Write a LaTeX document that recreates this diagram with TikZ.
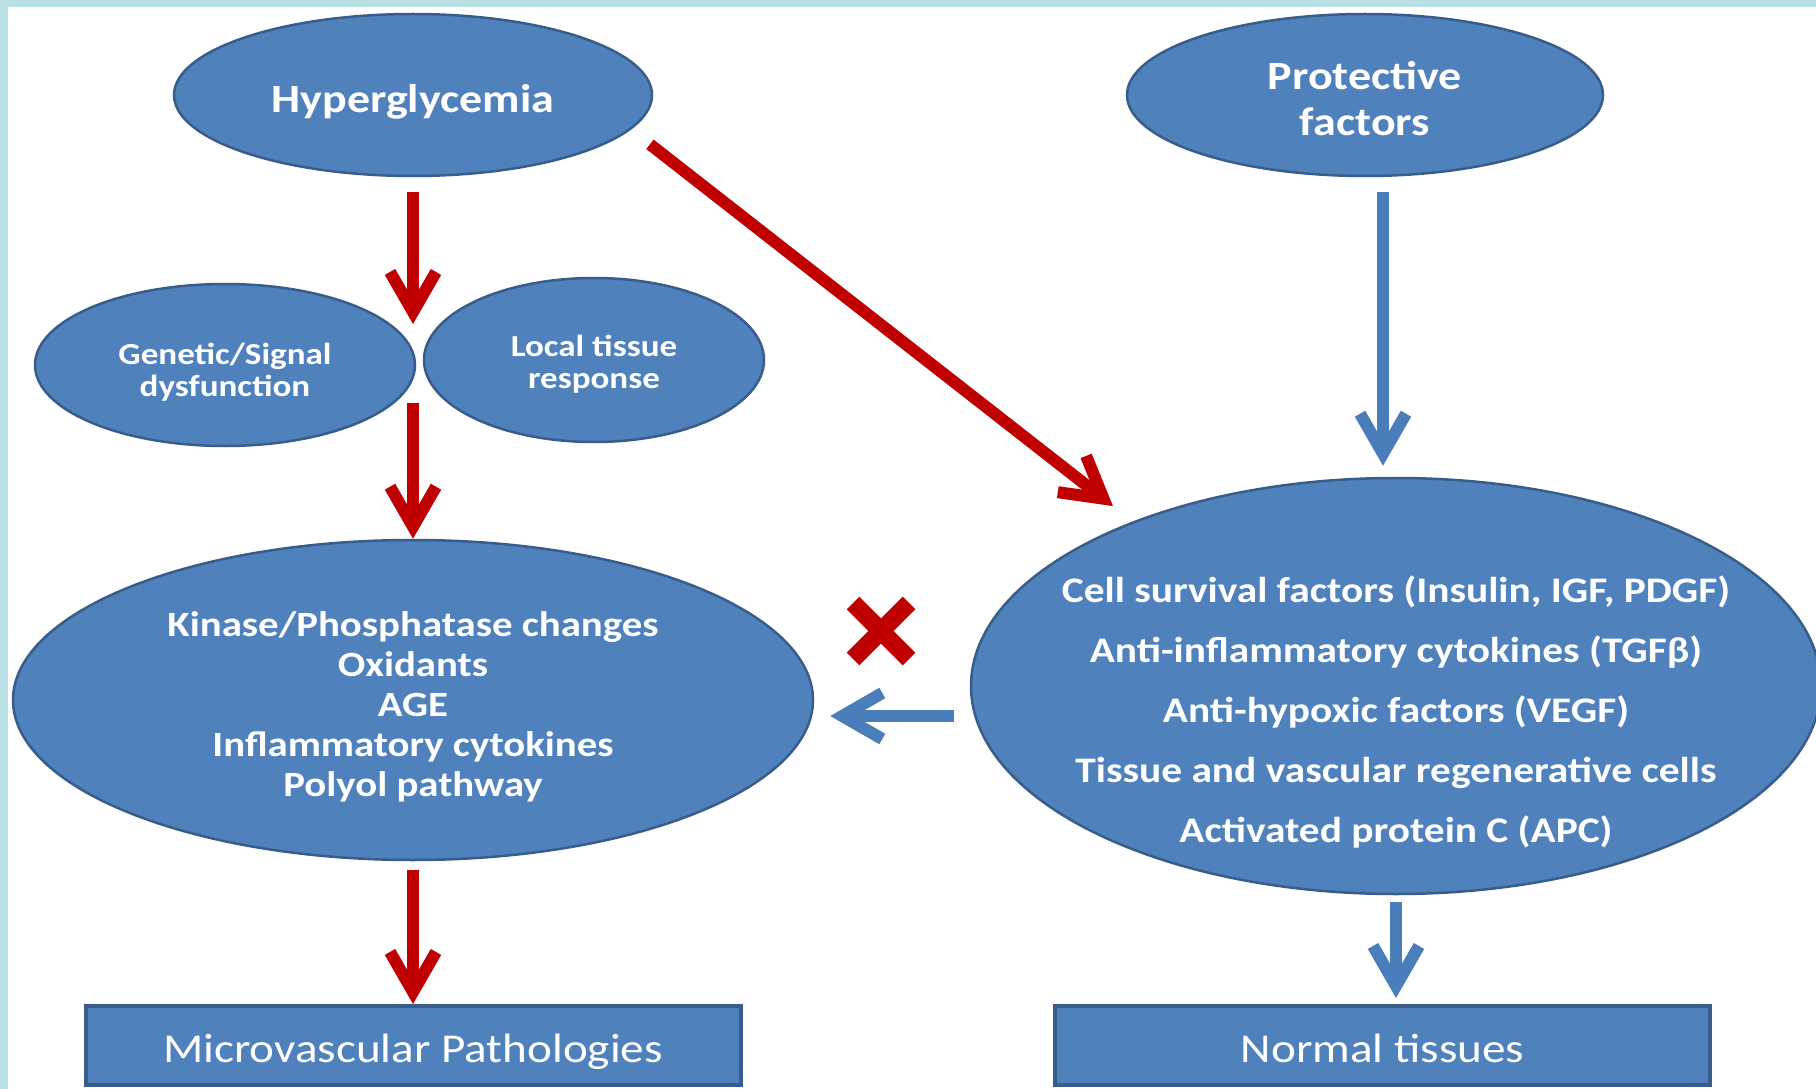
\documentclass[tikz,border=0pt]{standalone}
\usepackage{fontspec}
\setmainfont{Carlito}[FakeStretch=1.15]
\usetikzlibrary{arrows.meta,positioning,shapes.geometric}
\definecolor{bubbleblue}{HTML}{4F81BD}
\definecolor{edgeblue}{HTML}{385D8A}
\definecolor{arrowred}{HTML}{C00000}
\definecolor{arrowblue}{HTML}{4A7EBB}
\definecolor{framecyan}{HTML}{B9E1E4}
\newcommand{\bubbletext}[2]{\raisebox{-#1}[\height][\depth]{\begin{tabular}{@{}c@{}}#2\end{tabular}}}

\begin{document}
\begin{tikzpicture}[
  x=1pt, y=-1pt,
  bubble/.style={ellipse, draw=edgeblue, line width=2.5pt, fill=bubbleblue, text=white, inner sep=0pt},
  outcome/.style={rectangle, draw=edgeblue, line width=4pt, fill=bubbleblue, text=white, minimum width=655pt, minimum height=79pt, inner sep=0pt, text height=38pt, text depth=5pt, font=\fontsize{41}{48}\selectfont},
  redarr/.style={draw=arrowred, line width=12pt, -{Straight Barb[length=40pt, width=46pt]}},
  bluearr/.style={draw=arrowblue, line width=12pt, -{Straight Barb[length=40pt, width=46pt]}},
]
  \useasboundingbox (0,0) rectangle (1816,1089);
  \clip (0,0) rectangle (1816,1089);
  \fill[framecyan] (0,0) rectangle (1816,7);
  \fill[framecyan] (0,0) rectangle (8,1089);

  % Top ellipses
  \node[bubble, minimum width=478pt, minimum height=162pt, font=\bfseries\fontsize{40}{46}\selectfont] (hyper) at (413,95) {\bubbletext{8pt}{Hyperglycemia}};
  \node[bubble, minimum width=476pt, minimum height=162pt, font=\bfseries\fontsize{40}{46}\selectfont] (protect) at (1365,95) {\bubbletext{8pt}{Protective\\factors}};

  % Second row
  \node[bubble, minimum width=380pt, minimum height=162pt, font=\bfseries\fontsize{30.5}{32}\selectfont] (gene) at (225,365) {\bubbletext{9pt}{Genetic/Signal\\dysfunction}};
  \node[bubble, minimum width=340pt, minimum height=164pt, font=\bfseries\fontsize{30.5}{32}\selectfont] (local) at (594,360) {\bubbletext{6pt}{Local tissue\\response}};

  % Middle ellipses
  \node[bubble, minimum width=800pt, minimum height=320pt, font=\bfseries\fontsize{35.5}{40}\selectfont] (kinase) at (413,700)
    {\bubbletext{8pt}{Kinase/Phosphatase changes\\Oxidants\\AGE\\Inflammatory cytokines\\Polyol pathway}};
  \node[bubble, minimum width=850pt, minimum height=416pt, inner xsep=-50pt, inner ysep=-20pt, font=\bfseries\fontsize{36}{60}\selectfont] (surv) at (1396,686)
    {\bubbletext{24pt}{Cell survival factors (Insulin, IGF, PDGF)\\
      Anti-inflammatory cytokines (TGFβ)\\
      Anti-hypoxic factors (VEGF)\\
      Tissue and vascular regenerative cells\\
      Activated protein C (APC)}};

  % Outcomes
  \node[outcome] (micro) at (413,1045.5) {Microvascular Pathologies};
  \node[outcome] (normal) at (1382.5,1045.5) {Normal tissues};

  \coordinate (gapa) at (413,324);
  \coordinate (gapb) at (413,403);
  \coordinate (nox) at (881,631);

  % Red path
  \draw[redarr, shorten <=15pt] (hyper.south) -- (gapa);
  \draw[redarr] (gapb) -- (kinase.north);
  \draw[redarr, shorten <=9pt] (kinase.south) -- (micro.north);
  \draw[redarr, shorten <=24pt, shorten >=25pt] (hyper.-9) -- (surv.148);

  % Blue path
  \draw[bluearr, shorten <=15pt, shorten >=11pt] ([xshift=18pt]protect.south) -- ([xshift=18pt]protect.south |- surv.north);
  \draw[bluearr, shorten <=16pt, shorten >=16pt] ([yshift=-30pt]surv.west) -- ([yshift=-30pt]surv.west -| kinase.east);
  \draw[bluearr, shorten <=7pt, shorten >=6pt] (surv.south) -- (surv.south |- normal.north);

  % Blocked
  \draw[arrowred, line width=18pt] ([shift={(-28,-28)}]nox) -- ([shift={(28,28)}]nox);
  \draw[arrowred, line width=18pt] ([shift={(-28,28)}]nox) -- ([shift={(28,-28)}]nox);
\end{tikzpicture}
\end{document}
